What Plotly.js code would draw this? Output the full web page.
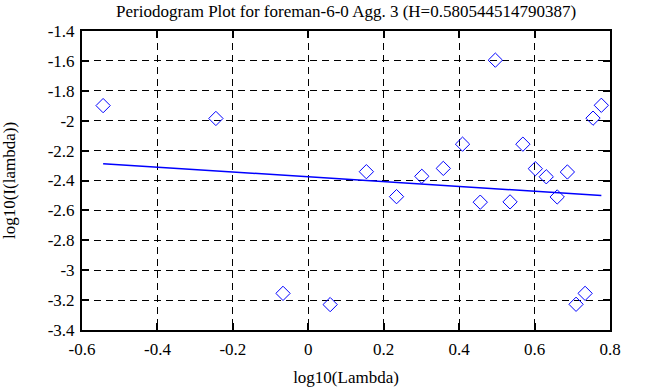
<!DOCTYPE html>
<html>
<head>
<meta charset="utf-8">
<script src="https://cdn.plot.ly/plotly-3.0.1.min.js"></script>
<style>html,body{margin:0;padding:0;background:#fff;}#chart{width:658px;height:387px;}</style>
</head>
<body>
<div id="chart"></div>
<script>
// Periodogram points: log10(lambda) vs log10(I(lambda))
const logLambda = [-0.544, -0.245, -0.067, 0.058, 0.154, 0.234, 0.301, 0.358, 0.409, 0.456, 0.496,
                   0.535, 0.569, 0.602, 0.631, 0.660, 0.687, 0.710, 0.734, 0.755, 0.777];
const logI      = [-1.899, -1.985, -3.155, -3.230, -2.341, -2.508, -2.372, -2.319, -2.157, -2.545, -1.595,
                   -2.543, -2.157, -2.321, -2.375, -2.510, -2.343, -3.228, -3.155, -1.983, -1.897];
// Least-squares fit line endpoints
const fitX = [-0.544, 0.777];
const fitY = [-2.288, -2.500];
const xTicks = [-0.6, -0.4, -0.2, 0, 0.2, 0.4, 0.6, 0.8];
const xTickText = ['-0.6', '-0.4', '-0.2', '0', '0.2', '0.4', '0.6', '0.8'];
const yTicks = [-3.4, -3.2, -3, -2.8, -2.6, -2.4, -2.2, -2, -1.8, -1.6, -1.4];
const yTickText = ['-3.4', '-3.2', '-3', '-2.8', '-2.6', '-2.4', '-2.2', '-2', '-1.8', '-1.6', '-1.4'];

const font = {family: '"Liberation Serif", "DejaVu Serif", serif', size: 17, color: '#000'};

const traces = [
  {x: logLambda, y: logI, mode: 'markers', type: 'scatter',
   marker: {symbol: 'diamond-open', size: 11, color: '#0000ff', line: {width: 1, color: '#0000ff'}},
   hoverinfo: 'skip'},
  {x: fitX, y: fitY, mode: 'lines', type: 'scatter',
   line: {color: '#0000ff', width: 1.5}, hoverinfo: 'skip'}
];

const axisCommon = {
  showline: true, linecolor: '#000', linewidth: 2, mirror: 'allticks',
  ticks: 'inside', ticklen: 7, tickwidth: 2, tickcolor: '#000',
  showgrid: true, gridcolor: '#000', gridwidth: 1, griddash: '7px,5px',
  zeroline: false, tickfont: font
};

const layout = {
  width: 658, height: 387,
  margin: {l: 82, r: 48, t: 31, b: 57},
  paper_bgcolor: '#fff', plot_bgcolor: '#fff',
  showlegend: false,
  font: font,
  title: {text: 'Periodogram Plot for foreman-6-0 Agg. 3 (H=0.580544514790387)',
          font: font, x: 0.526, xanchor: 'center', y: 0.988, yanchor: 'top'},
  xaxis: Object.assign({}, axisCommon, {
    range: [-0.6, 0.8], tickvals: xTicks, ticktext: xTickText, ticklabelstandoff: 3,
    title: {text: 'log10(Lambda)', font: font, standoff: 14}
  }),
  yaxis: Object.assign({}, axisCommon, {
    range: [-3.4, -1.4], tickvals: yTicks, ticktext: yTickText, ticklabelstandoff: 2,
    title: {text: 'log10(I(lambda))', font: font, standoff: 30}
  })
};

Plotly.newPlot('chart', traces, layout, {staticPlot: true, displayModeBar: false});
</script>
</body>
</html>
